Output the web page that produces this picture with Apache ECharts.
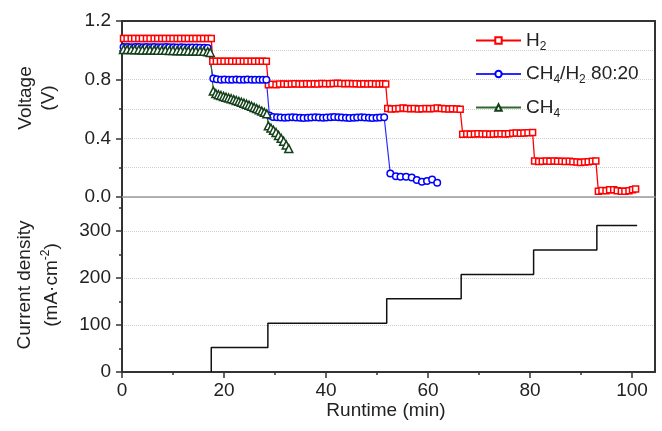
<!DOCTYPE html>
<html>
<head>
<meta charset="utf-8">
<script src="https://cdn.jsdelivr.net/npm/echarts@6/dist/echarts.min.js"></script>
<style>html,body{margin:0;padding:0;background:#fff}#c{width:662px;height:431px}</style>
</head>
<body>
<div id="c"></div>
<script>
// ---- data ----
const h2Time = [0.3,1.0,1.8,2.5,3.3,4.0,4.8,5.5,6.3,7.0,7.8,8.5,9.3,10.0,10.8,11.5,12.3,13.0,13.8,14.5,15.3,16.0,16.8,17.5,
  17.8,18.5,19.3,20.0,20.8,21.5,22.3,23.0,23.8,24.5,25.3,26.0,26.8,27.5,28.3,
  28.7,29.4,30.2,30.9,31.7,32.4,33.2,33.9,34.7,35.4,36.2,36.9,37.7,38.4,39.2,39.9,40.7,41.4,42.2,42.9,43.7,44.4,45.2,45.9,46.7,47.4,48.2,48.9,49.7,50.4,51.1,51.7,
  52.1,52.8,53.6,54.3,55.1,55.8,56.6,57.3,58.1,58.8,59.6,60.3,61.1,61.8,62.6,63.3,64.1,64.8,65.6,66.3,
  66.8,67.6,68.3,69.1,69.8,70.6,71.3,72.1,72.8,73.6,74.3,75.1,75.8,76.6,77.3,78.1,78.8,79.6,80.5,
  80.9,81.7,82.4,83.2,83.9,84.7,85.4,86.2,86.9,87.7,88.4,89.2,89.9,90.7,91.4,92.2,92.9,
  93.4,94.1,94.9,95.6,96.4,97.1,97.9,98.6,99.4,100.1,100.7];
const h2Volt = [1.081,1.080,1.081,1.080,1.080,1.081,1.080,1.080,1.081,1.080,1.080,1.080,1.081,1.080,1.080,1.081,1.080,1.080,1.080,1.081,1.080,1.080,1.081,1.080,
  0.926,0.925,0.926,0.925,0.925,0.926,0.925,0.925,0.926,0.925,0.925,0.926,0.925,0.925,0.926,
  0.766,0.768,0.766,0.770,0.770,0.768,0.770,0.772,0.770,0.770,0.772,0.770,0.772,0.770,0.774,0.772,0.772,0.774,0.776,0.774,0.772,0.774,0.772,0.772,0.770,0.772,0.770,0.772,0.770,0.770,0.772,0.770,
  0.604,0.600,0.602,0.604,0.606,0.604,0.602,0.604,0.600,0.602,0.604,0.602,0.604,0.606,0.604,0.602,0.600,0.602,0.600,0.598,
  0.428,0.430,0.428,0.430,0.432,0.430,0.430,0.428,0.430,0.432,0.432,0.430,0.432,0.434,0.436,0.434,0.436,0.438,0.440,
  0.246,0.242,0.244,0.246,0.244,0.246,0.244,0.244,0.242,0.244,0.240,0.238,0.236,0.238,0.240,0.244,0.246,
  0.039,0.045,0.043,0.050,0.050,0.043,0.039,0.039,0.043,0.050,0.055];

const mixTime = [0.3,1.1,1.8,2.6,3.3,4.1,4.8,5.6,6.3,7.1,7.8,8.6,9.3,10.1,10.8,11.6,12.3,13.1,13.8,14.6,15.3,16.1,16.8,
  17.9,18.6,19.4,20.1,20.9,21.6,22.4,23.1,23.9,24.6,25.4,26.1,26.9,27.6,28.3,
  28.9,29.6,30.4,31.1,31.9,32.6,33.4,34.1,34.9,35.6,36.4,37.1,37.9,38.6,39.4,40.1,40.9,41.6,42.4,43.1,43.9,44.6,45.4,46.1,46.9,47.6,48.4,49.1,49.9,50.6,51.4,
  52.6,53.7,54.6,55.7,56.8,57.8,58.8,59.8,60.8,61.8];
const mixVolt = [1.022,1.022,1.021,1.022,1.022,1.021,1.022,1.021,1.022,1.021,1.021,1.022,1.021,1.021,1.020,1.021,1.020,1.020,1.019,1.019,1.018,1.017,1.016,
  0.808,0.802,0.800,0.801,0.800,0.800,0.801,0.800,0.800,0.801,0.800,0.800,0.799,0.800,0.800,
  0.556,0.546,0.544,0.542,0.540,0.542,0.544,0.542,0.540,0.538,0.540,0.542,0.544,0.542,0.540,0.542,0.544,0.546,0.544,0.542,0.540,0.538,0.540,0.542,0.544,0.542,0.540,0.538,0.540,0.542,0.544,
  0.160,0.142,0.138,0.138,0.133,0.116,0.104,0.109,0.120,0.098];

const ch4Time = [0.3,1.0,1.8,2.5,3.3,4.0,4.8,5.5,6.3,7.0,7.8,8.5,9.3,10.0,10.8,11.5,12.3,13.0,13.8,14.5,15.3,16.0,16.8,17.3,
  17.9,18.4,18.9,19.4,19.9,20.4,20.9,21.4,21.9,22.4,22.9,23.4,23.9,24.4,24.9,25.4,25.9,26.4,26.9,27.4,27.9,28.4,
  28.7,29.2,29.7,30.2,30.7,31.2,31.7,32.2,32.7];
const ch4Volt = [1.006,1.005,1.005,1.004,1.004,1.003,1.003,1.002,1.002,1.001,1.000,1.000,0.999,0.999,0.998,0.997,0.997,0.996,0.995,0.995,0.994,0.993,0.991,0.985,
  0.722,0.705,0.698,0.692,0.686,0.680,0.675,0.670,0.664,0.658,0.652,0.646,0.640,0.633,0.626,0.619,0.611,0.603,0.595,0.586,0.577,0.567,
  0.485,0.470,0.455,0.440,0.420,0.400,0.380,0.355,0.330];

const curTime = [17.5,17.5,28.6,51.9,66.5,80.7,93.1,101.0];
const curDensity = [0,52,104,156,208,260,312,312];

const xTickVals = [0,20,40,60,80,100];
const xMinorVals = [10,30,50,70,90];
const jTickVals = [0,100,200,300];
const jMinorVals = [50,150,250,350];

const seriesNames = ['H2','CH4/H2 80:20','CH4'];
const legendRich = {'H2':'{n|H}{s|2}', 'CH4/H2 80:20':'{n|CH}{s|4}{n|/H}{s|2}{n| 80:20}', 'CH4':'{n|CH}{s|4}'};

// ---- chart ----
const FONT = '"Liberation Sans", Arial, sans-serif';
const pair = (a,b) => a.map((t,i)=>[t,b[i]]);
const chart = echarts.init(document.getElementById('c'), null, {renderer:'canvas'});
const X0 = 0, X1 = 104.5;
const dark = '#333';
const lab = {fontSize:19, color:'#222', fontFamily:FONT};

chart.setOption({
  animation:false,
  backgroundColor:'#fff',
  grid:[
    {left:122, top:21, width:533, height:176},
    {left:122, top:197, width:533, height:175}
  ],
  legend:{
    data:seriesNames, orient:'vertical', left:475, top:31, padding:0, itemGap:12,
    itemWidth:45, itemHeight:8,
    formatter: n => legendRich[n],
    textStyle:{fontSize:19, color:'#222', fontFamily:FONT,
      rich:{n:{fontSize:19, fontFamily:FONT, color:'#222'}, s:{fontSize:12, fontFamily:FONT, color:'#222', padding:[12,0,0,0]}}}
  },
  xAxis:[
    {gridIndex:0, type:'value', min:X0, max:X1, position:'bottom',
      axisLine:{show:true, onZero:false, lineStyle:{color:'#9a9a9a', width:1.5}},
      axisTick:{show:false}, axisLabel:{show:false}, splitLine:{show:false}},
    {gridIndex:0, type:'value', min:X0, max:X1, position:'top',
      axisLine:{show:true, onZero:false, lineStyle:{color:dark, width:2}},
      axisTick:{show:false}, axisLabel:{show:false}, splitLine:{show:false}},
    {gridIndex:1, type:'value', min:X0, max:X1, interval:20, position:'bottom',
      axisLine:{show:true, onZero:false, lineStyle:{color:dark, width:2}},
      axisTick:{show:true, length:6, customValues:xTickVals, lineStyle:{color:dark, width:1.5}},
      axisLabel:Object.assign({margin:9, customValues:xTickVals}, lab),
      splitLine:{show:false}},
    {gridIndex:1, type:'value', min:X0, max:X1, position:'bottom',
      axisLine:{show:false},
      axisTick:{show:true, length:3, customValues:xMinorVals, lineStyle:{color:dark, width:1.5}},
      axisLabel:{show:false}, splitLine:{show:false}}
  ],
  yAxis:[
    {gridIndex:0, type:'value', min:0, max:1.2, interval:0.4, position:'left',
      axisLine:{show:true, onZero:false, lineStyle:{color:dark, width:2}},
      axisTick:{show:true, length:6, lineStyle:{color:dark, width:1.5}},
      minorTick:{show:true, splitNumber:2, length:3, lineStyle:{color:dark, width:1.5}},
      minorSplitLine:{show:true, lineStyle:{color:'#cfcfcf', type:'dotted', width:1}},
      splitLine:{show:true, lineStyle:{color:'#cfcfcf', type:'dotted', width:1}},
      axisLabel:Object.assign({margin:11, formatter:v=>v.toFixed(1)}, lab)},
    {gridIndex:0, type:'value', min:0, max:1.2, position:'right',
      axisLine:{show:true, onZero:false, lineStyle:{color:dark, width:2}},
      axisTick:{show:false}, axisLabel:{show:false}, splitLine:{show:false}},
    {gridIndex:1, type:'value', min:0, max:373, interval:100, position:'left',
      axisLine:{show:true, onZero:false, lineStyle:{color:dark, width:2}},
      axisTick:{show:true, length:6, customValues:jTickVals, lineStyle:{color:dark, width:1.5}},
      splitLine:{show:true, lineStyle:{color:'#cfcfcf', type:'dotted', width:1}},
      axisLabel:Object.assign({margin:11, customValues:jTickVals}, lab)},
    {gridIndex:1, type:'value', min:0, max:373, position:'left',
      axisLine:{show:false},
      axisTick:{show:true, length:3, customValues:jMinorVals, lineStyle:{color:dark, width:1.5}},
      axisLabel:{show:false}, splitLine:{show:false}},
    {gridIndex:1, type:'value', min:0, max:373, position:'right',
      axisLine:{show:true, onZero:false, lineStyle:{color:dark, width:2}},
      axisTick:{show:false}, axisLabel:{show:false}, splitLine:{show:false}}
  ],
  series:[
    {name:seriesNames[0], type:'line', xAxisIndex:0, yAxisIndex:0, data:pair(h2Time,h2Volt),
      symbol:'rect', symbolSize:6, showAllSymbol:true,
      itemStyle:{color:'#fff', borderColor:'#ff0000', borderWidth:1.5},
      lineStyle:{color:'#ff0000', width:1.3}},
    {name:seriesNames[1], type:'line', xAxisIndex:0, yAxisIndex:0, data:pair(mixTime,mixVolt),
      symbol:'circle', symbolSize:6.5, showAllSymbol:true,
      itemStyle:{color:'#fff', borderColor:'#0000ff', borderWidth:1.5},
      lineStyle:{color:'#2a2aff', width:1.2}},
    {name:seriesNames[2], type:'line', xAxisIndex:0, yAxisIndex:0, data:pair(ch4Time,ch4Volt),
      symbol:'triangle', symbolSize:8, showAllSymbol:true,
      itemStyle:{color:'#fff', borderColor:'#14401a', borderWidth:1.5},
      lineStyle:{color:'#2f6b2f', width:1.2}},
    {name:'Current density', type:'line', xAxisIndex:2, yAxisIndex:2, data:pair(curTime,curDensity),
      step:'end', symbol:'none', lineStyle:{color:'#111', width:1.5}}
  ],
  graphic:[
    {type:'text', x:37, y:98, rotation:Math.PI/2,
      style:{text:'Voltage\n(V)', fontSize:19, fontFamily:FONT, fill:'#222', align:'center', verticalAlign:'middle', lineHeight:23}},
    {type:'text', x:38, y:285, rotation:Math.PI/2,
      style:{text:'{a|Current density}\n{a|(mA·cm}{p|-2}{a|)}', align:'center', verticalAlign:'middle', fill:'#222',
        rich:{a:{fontSize:19, fontFamily:FONT, fill:'#222', lineHeight:27}, p:{fontSize:12, fontFamily:FONT, fill:'#222', padding:[0,0,11,0]}}}},
    {type:'text', x:386, y:411,
      style:{text:'Runtime (min)', fontSize:19, fontFamily:FONT, fill:'#222', align:'center', verticalAlign:'middle'}}
  ]
});
</script>
</body>
</html>
